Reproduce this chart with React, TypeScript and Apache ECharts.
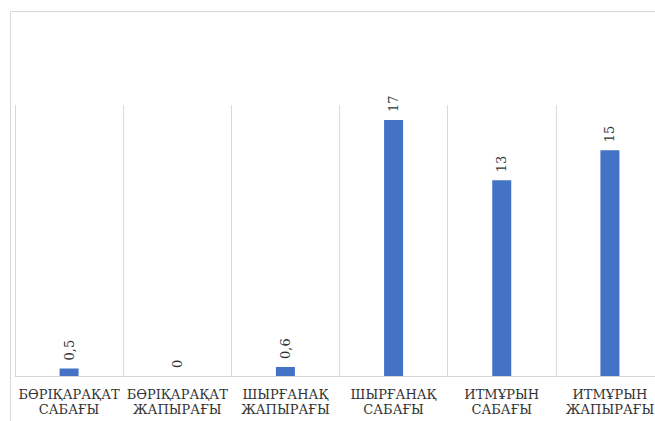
import React, { useEffect, useRef } from "react";
import * as echarts from "echarts";

const categories = [
  "БӨРІҚАРАҚАТ САБАҒЫ",
  "БӨРІҚАРАҚАТ ЖАПЫРАҒЫ",
  "ШЫРҒАНАҚ ЖАПЫРАҒЫ",
  "ШЫРҒАНАҚ САБАҒЫ",
  "ИТМҰРЫН САБАҒЫ",
  "ИТМҰРЫН ЖАПЫРАҒЫ",
];
const values = [0.5, 0, 0.6, 17, 13, 15];

const SERIF = "DejaVu Serif";

export default function App() {
  const ref = useRef<HTMLDivElement>(null);
  useEffect(() => {
    if (!ref.current) return;
    const chart = echarts.init(ref.current, null, { renderer: "svg" });
    chart.setOption({
      animation: false,
      backgroundColor: "#ffffff",
      textStyle: { fontFamily: SERIF },
      grid: { left: 15, right: 16, top: 105, bottom: 45 },
      graphic: [
        {
          type: "rect",
          shape: { x: 10.5, y: 11.5, width: 700, height: 450 },
          style: { fill: "none", stroke: "#d9d9d9", lineWidth: 1 },
          silent: true,
        },
      ],
      xAxis: {
        type: "category",
        data: categories,
        boundaryGap: true,
        axisLine: { show: true, lineStyle: { color: "#d9d9d9", width: 1 } },
        axisTick: { show: false },
        splitLine: { show: true, lineStyle: { color: "#d9d9d9", width: 1 } },
        axisLabel: {
          interval: 0,
          margin: 11,
          fontFamily: SERIF,
          fontSize: 13,
          lineHeight: 15,
          color: "#333333",
          formatter: (v: string) => v.replace(" ", "\n"),
        },
      },
      yAxis: {
        type: "value",
        min: 0,
        max: 18,
        interval: 2,
        show: false,
        splitLine: { show: false },
      },
      series: [
        {
          type: "bar",
          data: values,
          barWidth: 19,
          itemStyle: { color: "#4472c4" },
          label: {
            show: true,
            position: "top",
            rotate: 90,
            align: "left",
            verticalAlign: "middle",
            distance: 8,
            fontFamily: SERIF,
            fontSize: 13,
            color: "#333333",
            formatter: (p: any) => String(p.value).replace(".", ","),
          },
        },
      ],
    });
    return () => chart.dispose();
  }, []);
  return (
    <div
      ref={ref}
      style={{ position: "fixed", left: 0, top: 0, width: 680, height: 421 }}
    />
  );
}
